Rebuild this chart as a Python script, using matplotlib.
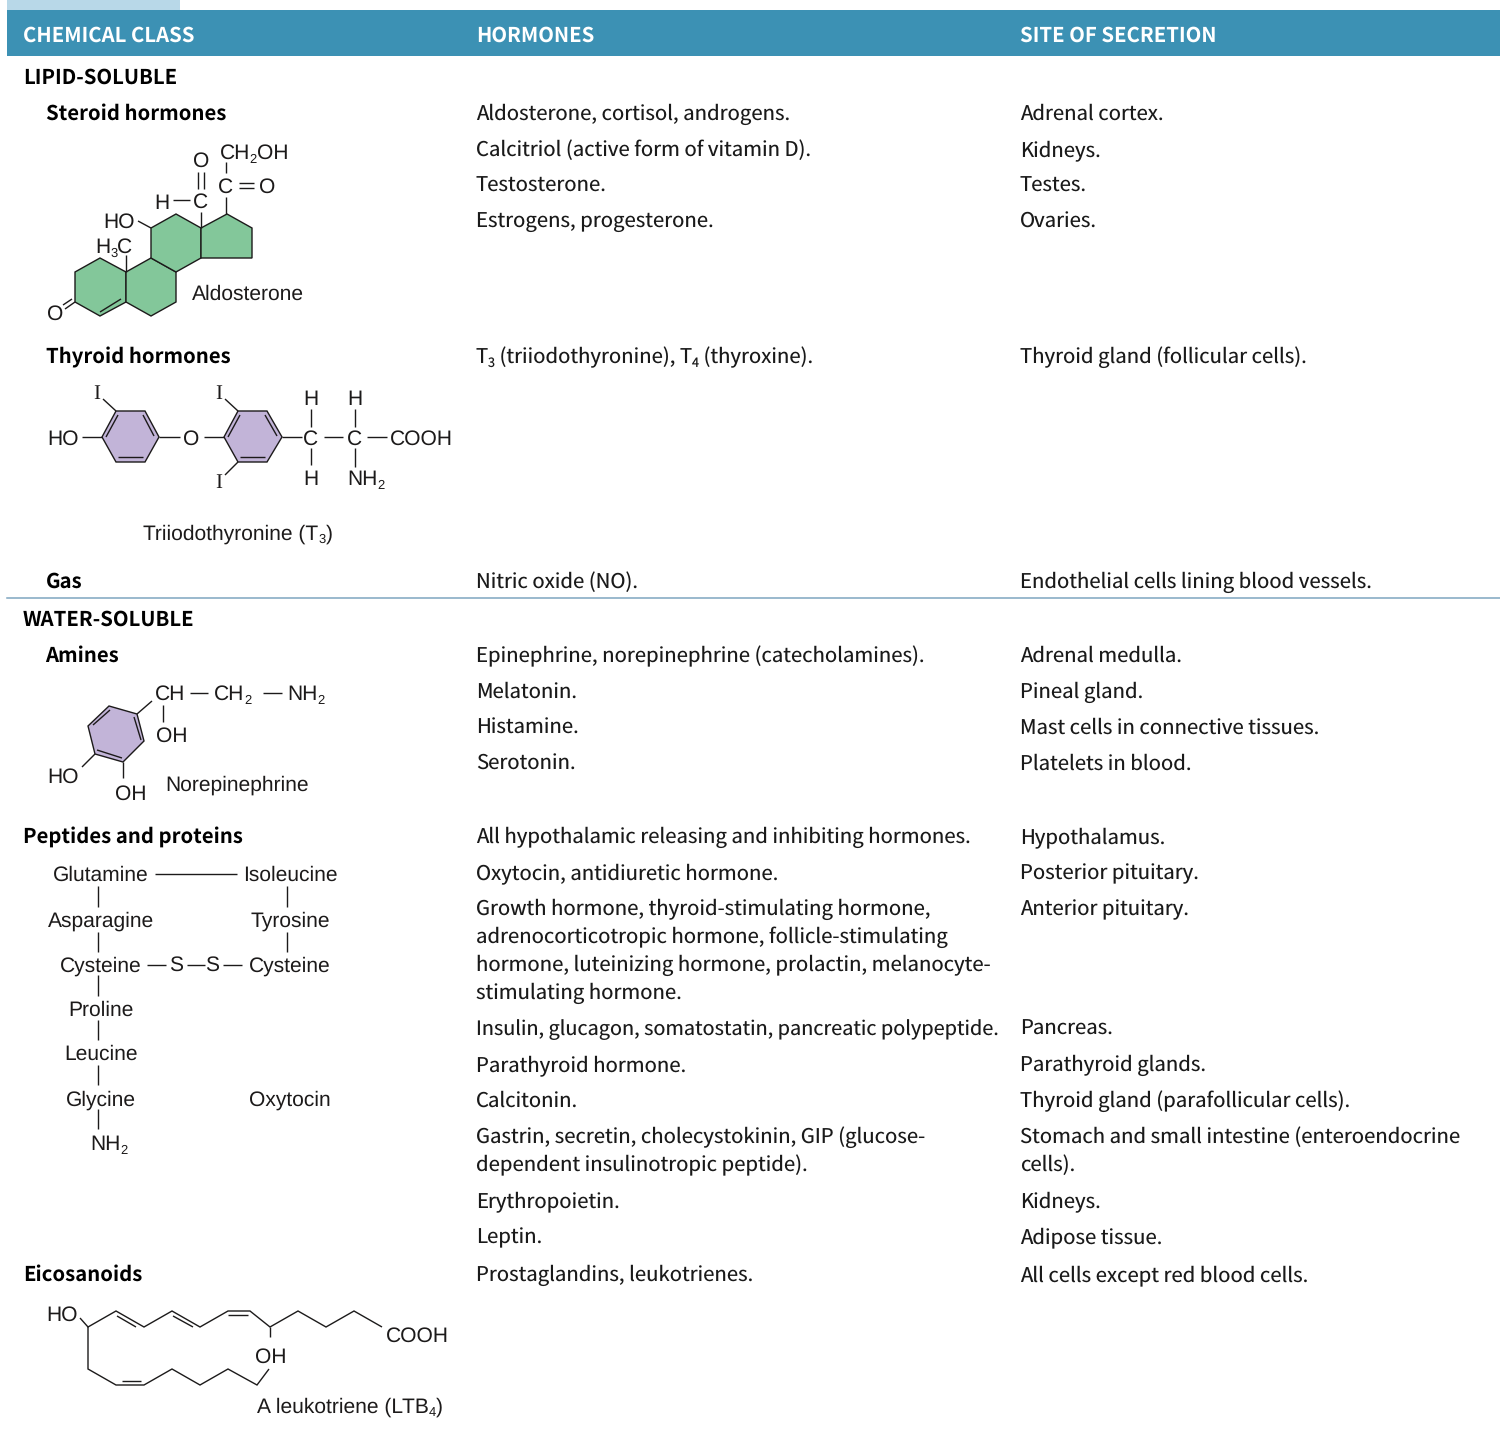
import matplotlib
matplotlib.use("Agg")
import matplotlib.pyplot as plt
from matplotlib.patches import Rectangle

plt.rcParams["text.hinting"] = "no_hinting"
plt.rcParams["text.hinting_factor"] = 1

BODY = "Noto Sans CJK SC"
DIAG = "Liberation Sans"
BS = 14.65
DS = 15.4
INK = "#1c1a1a"
CONDENSED_LINE = "Insulin, glucagon, somatostatin, pancreatic polypeptide."

headers = [("CHEMICAL CLASS", 23), ("HORMONES", 476.5), ("SITE OF SECRETION", 1020.5)]
class_labels = [
    ("LIPID-SOLUBLE", 23, 77), ("Steroid hormones", 46, 113), ("Thyroid hormones", 46, 356),
    ("Gas", 46, 581), ("WATER-SOLUBLE", 23, 619), ("Amines", 45.6, 655),
    ("Peptides and proteins", 23, 836), ("Eicosanoids", 23, 1274),
]
hormones = [
    ("Aldosterone, cortisol, androgens.", 113), ("Calcitriol (active form of vitamin D).", 149),
    ("Testosterone.", 185), ("Estrogens, progesterone.", 221),
    ("Nitric oxide (NO).", 581),
    ("Epinephrine, norepinephrine (catecholamines).", 655), ("Melatonin.", 691),
    ("Histamine.", 727), ("Serotonin.", 763),
    ("All hypothalamic releasing and inhibiting hormones.", 836),
    ("Oxytocin, antidiuretic hormone.", 872),
    ("Growth hormone, thyroid-stimulating hormone,", 908),
    ("adrenocorticotropic hormone, follicle-stimulating", 936),
    ("hormone, luteinizing hormone, prolactin, melanocyte-", 964),
    ("stimulating hormone.", 992),
    (CONDENSED_LINE, 1028),
    ("Parathyroid hormone.", 1064), ("Calcitonin.", 1100),
    ("Gastrin, secretin, cholecystokinin, GIP (glucose-", 1136),
    ("dependent insulinotropic peptide).", 1164),
    ("Erythropoietin.", 1200), ("Leptin.", 1236), ("Prostaglandins, leukotrienes.", 1274),
]
sites = [
    ("Adrenal cortex.", 113), ("Kidneys.", 149), ("Testes.", 185), ("Ovaries.", 221),
    ("Thyroid gland (follicular cells).", 356),
    ("Endothelial cells lining blood vessels.", 581),
    ("Adrenal medulla.", 655), ("Pineal gland.", 691),
    ("Mast cells in connective tissues.", 727), ("Platelets in blood.", 763),
    ("Hypothalamus.", 836), ("Posterior pituitary.", 872), ("Anterior pituitary.", 908),
    ("Pancreas.", 1028), ("Parathyroid glands.", 1064),
    ("Thyroid gland (parafollicular cells).", 1100),
    ("Stomach and small intestine (enteroendocrine", 1136), ("cells).", 1164),
    ("Kidneys.", 1200), ("Adipose tissue.", 1236), ("All cells except red blood cells.", 1274),
]

# Aldosterone
ald_rings = [
    [(75,272),(100,258),(126,272),(126,302),(100,316),(75,302)],
    [(126,272),(151,258),(176,272),(176,302),(151,316),(126,302)],
    [(151,258),(151,228),(176,214),(201,228),(201,258),(176,272)],
    [(201,228),(227,214),(252,228),(252,258),(201,258)],
]
ald_bonds = [
    [(100,312),(121,299)], [(75,302),(65,309)], [(72,299),(63,305)], [(126,272),(126,255)],
    [(138,221),(151,228)], [(201,228),(201,212)], [(173,200),(190,200)],
    [(198,172),(198,189)], [(204,172),(204,189)], [(226,162),(226,173)],
    [(239,183),(254,183)], [(239,188),(254,188)], [(226,197),(226,214)],
]
ald_labels = [("O",201,159), ("C",201,200), ("H",162,201), ("C",226,185), ("O",267,185), ("HO",119,220)]
# Thyroid
thy_rings = [
    [(102,437),(116,411),(145,411),(159,437),(145,462),(116,462)],
    [(224,437),(238,411),(267,411),(282,437),(267,462),(238,462)],
]
thy_bonds = [
    [(106,437),(118,415)], [(143,415),(154,436)], [(118,457),(143,457)],
    [(228,437),(240,415)], [(265,415),(277,436)], [(240,457),(265,457)],
    [(82,437),(102,437)], [(159,437),(180,437)], [(204,437),(224,437)], [(282,437),(302,437)],
    [(324,437),(343,437)], [(367,437),(387,437)],
    [(311,409),(311,427)], [(311,448),(311,465)], [(355,409),(355,427)], [(355,448),(355,467)],
    [(103,399),(116,411)], [(225,399),(238,411)], [(225,475),(238,462)],
]
thy_labels = [("HO",63,437), ("O",191,437), ("C",311,437), ("C",355,437), ("COOH",421,437),
              ("H",311,397), ("H",355,397), ("H",311,477)]
thy_iodine = [("I",97,392), ("I",219,392), ("I",219,481)]
# Norepinephrine
nor_ring = [(137,714),(109,706),(88,726),(95,754),(123,762),(144,741)]
nor_bonds = [
    [(134,717),(141,740)], [(110,710),(93,725)], [(97,750),(122,758)],
    [(137,714),(152,701)], [(163,705),(163,722)], [(95,754),(82,767)], [(123,762),(123,778)],
    [(190,693),(208,693)], [(263,693),(282,693)],
]
nor_labels = [("OH",172,734), ("HO",63,775), ("OH",131,792)]
# Oxytocin
oxy_labels = [("Glutamine",101,873), ("Isoleucine",290,873), ("Asparagine",101,918), ("Tyrosine",290,918),
              ("Cysteine",101,963), ("S",176,963), ("S",212,963), ("Cysteine",290,963),
              ("Proline",101,1008), ("Leucine",101,1052), ("Glycine",101,1097), ("Oxytocin",290,1097)]
oxy_bonds = [
    [(98,886),(98,907)], [(98,932),(98,952)], [(98,975),(98,996)], [(98,1020),(98,1040)],
    [(98,1065),(98,1085)], [(98,1109),(98,1129)], [(287,886),(287,907)], [(287,932),(287,952)],
    [(155,874),(237,874)], [(147,965),(166,965)], [(187,965),(205,965)], [(223,965),(242,965)],
]
# Leukotriene
ltb_bonds = [
    [(80,1318),(88,1327),(116,1311),(144,1327),(172,1311),(200,1327),(228,1311),(250,1311),
     (270,1327),(298,1311),(326,1327),(354,1311),(382,1327)],
    [(88,1327),(88,1369),(116,1385),(144,1385),(172,1369),(200,1385),(228,1369),(257,1385),(269,1369)],
    [(117,1316),(136,1327)], [(173,1316),(193,1327)], [(228,1315),(248,1315)],
    [(122,1381),(141,1381)], [(270,1327),(270,1337)],
]
ltb_labels = [("HO",62,1313), ("OH",271,1355)]

fig = plt.figure(figsize=(15, 14.31), dpi=100)
ax = fig.add_axes([0, 0, 1, 1])
ax.set_xlim(0, 1500)
ax.set_ylim(1431, 0)
ax.axis("off")

ax.add_patch(Rectangle((7, 0), 173, 10, fc="#B8D8E8", ec="none"))
ax.add_patch(Rectangle((7, 10), 1493, 46, fc="#3C91B4", ec="none"))
ax.plot([7, 1500], [598, 598], color="#7FA5C0", lw=1.1)

def body(s, x, y, weight="normal", color="#1a1a1a", dy=7):
    size = BS * 0.9775 if s == CONDENSED_LINE else BS
    return ax.text(x, y + dy, s, family=BODY, fontsize=size, weight=weight, color=color, va="baseline", ha="left")

for s, x in headers:
    body(s, x, 35, "bold", "white")
for s, x, y in class_labels:
    body(s, x, y, "bold", "black")
for s, y in hormones:
    body(s, 476, y)
for s, y in sites:
    body(s, 1020, y)

renderer = fig.canvas.get_renderer()

def rich(x, y, pieces, family, size, color, dy):
    """Draw a run of text with subscripts; pieces = (string, is_subscript)."""
    for s, sub in pieces:
        t = ax.text(x, y + dy + (4 if sub else 0), s, family=family,
                    fontsize=size * (0.62 if sub else 1), color=color, va="baseline", ha="left")
        x += t.get_window_extent(renderer).width

def diag(x, y, pieces):
    rich(x, y, pieces, DIAG, DS, INK, 8.2)

def lines(bonds):
    for b in bonds:
        xs, ys = zip(*b)
        ax.plot(xs, ys, color=INK, lw=1.0, solid_capstyle="butt", solid_joinstyle="miter")

def rings(polys, fc):
    for p in polys:
        xs, ys = zip(*p)
        ax.fill(xs, ys, fc=fc, ec=INK, lw=1.0, joinstyle="miter")

def labels(items):
    for s, x, y in items:
        ax.text(x, y + 8.2, s, family=DIAG, fontsize=DS, color=INK, ha="center", va="baseline")

rich(476, 356, [("T", 0), ("3", 1), (" (triiodothyronine), T", 0), ("4", 1), (" (thyroxine).", 0)],
     BODY, BS, "#1a1a1a", 7)

rings(ald_rings, "#83C79A")
lines(ald_bonds)
labels(ald_labels)
ax.text(55, 319.5, "O", family=DIAG, fontsize=DS, color=INK, ha="center", va="baseline")
diag(219.5, 151, [("CH", 0), ("2", 1), ("OH", 0)])
diag(95, 245, [("H", 0), ("3", 1), ("C", 0)])
diag(192, 292, [("Aldosterone", 0)])

rings(thy_rings, "#C2B4D8")
lines(thy_bonds)
labels(thy_labels)
for s, x, y in thy_iodine:
    ax.text(x, y + 7, s, family="Liberation Serif", fontsize=DS, color=INK, ha="center", va="baseline")
diag(347.5, 477, [("NH", 0), ("2", 1)])
diag(143, 531, [("Triiodothyronine (T", 0), ("3", 1), (")", 0)])

rings([nor_ring], "#C2B4D8")
lines(nor_bonds)
labels(nor_labels)
diag(155, 692, [("CH", 0)])
diag(214, 692, [("CH", 0), ("2", 1)])
diag(287, 692, [("NH", 0), ("2", 1)])
diag(165, 782, [("Norepinephrine", 0)])

lines(oxy_bonds)
labels(oxy_labels)
diag(90, 1142, [("NH", 0), ("2", 1)])

lines(ltb_bonds)
labels(ltb_labels)
diag(386, 1334, [("COOH", 0)])
diag(257, 1404, [("A leukotriene (LTB", 0), ("4", 1), (")", 0)])

fig.savefig("out.png", dpi=100, facecolor="white")
